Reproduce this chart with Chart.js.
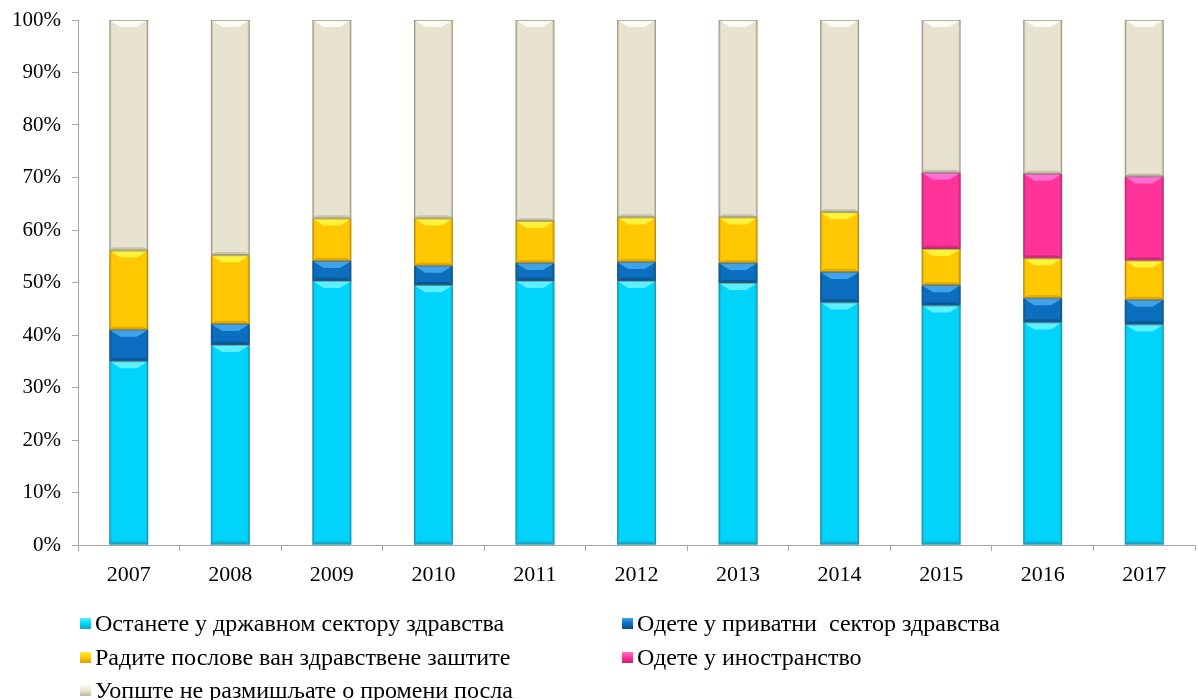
<!DOCTYPE html>
<html>
<head>
<meta charset="utf-8">
<script src="https://cdn.jsdelivr.net/npm/chart.js@4.4.1/dist/chart.umd.min.js"></script>
<style>
  body { margin: 0; background: #fff; }
  #wrap { position: relative; width: 1198px; height: 700px; }
  #chart { position: absolute; left: 0; top: 0; }
  #legend { position: absolute; left: 0; top: 0; width: 1198px; height: 700px; pointer-events: none;
            font-family: "Liberation Serif", "Times New Roman", serif; font-size: 24px; color: #000; }
  .lg-item { position: absolute; white-space: nowrap; line-height: 26px; }
  .lg-box { display: inline-block; width: 11px; height: 11px; margin-right: 4px; vertical-align: 2px; }
</style>
</head>
<body>
<div id="wrap">
  <canvas id="chart" width="1198" height="700"></canvas>
  <div id="legend"></div>
</div>
<script>
// ── Datos ──────────────────────────────────────────────────────────────────
const years = ['2007','2008','2009','2010','2011','2012','2013','2014','2015','2016','2017'];
const yTicks = [0, 10, 20, 30, 40, 50, 60, 70, 80, 90, 100];

const seriesNames = [
  'Останете у државном сектору здравства',
  'Одете у приватни  сектор здравства',
  'Радите послове ван здравствене заштите',
  'Одете у иностранство',
  'Уопште не размишљате о промени посла'
];

const stayPublic   = [35.0, 38.1, 50.3, 49.5, 50.3, 50.3, 49.9, 46.2, 45.6, 42.4, 42.0];
const goPrivate    = [ 6.0,  4.0,  3.8,  3.7,  3.4,  3.6,  3.8,  5.8,  3.9,  4.6,  4.7];
const workOutside  = [15.1, 13.1,  8.1,  9.0,  8.0,  8.5,  8.7, 11.4,  6.9,  7.6,  7.5];
const goAbroad     = [ 0,    0,    0,    0,    0,    0,    0,    0,   14.5, 16.1, 16.0];
const noChange     = [43.9, 44.8, 37.8, 37.8, 38.3, 37.6, 37.6, 36.6, 29.1, 29.3, 29.8];

// colores: base, claro (bisel superior), oscuro (bisel inferior / bordes)
const palette = [
  { base: '#00d4fa', light: '#5cf0ff', dark: '#0aa9cc' },
  { base: '#0b6ebf', light: '#3fa3ea', dark: '#064e8c' },
  { base: '#ffc800', light: '#fff23a', dark: '#d9a100' },
  { base: '#ff3399', light: '#ff6fd0', dark: '#cc1f77' },
  { base: '#e8e3cf', light: '#fbfaf3', dark: '#bdb8a5' }
];

const allSeries = [stayPublic, goPrivate, workOutside, goAbroad, noChange];
const FONT = '"Liberation Serif", "Times New Roman", serif';

// ── Bisel tipo Excel ───────────────────────────────────────────────────────
const bevelPlugin = {
  id: 'bevel',
  afterDatasetsDraw(chart) {
    const ctx = chart.ctx;
    chart.data.datasets.forEach((ds, di) => {
      const meta = chart.getDatasetMeta(di);
      const pal = palette[di];
      meta.data.forEach(bar => {
        const top = Math.min(bar.y, bar.base), bot = Math.max(bar.y, bar.base);
        const h = bot - top;
        if (h < 1) return;
        const l = bar.x - bar.width / 2, r = bar.x + bar.width / 2;
        const b = Math.min(7, h / 2.2);
        ctx.save();
        // bisel superior
        ctx.fillStyle = pal.light;
        ctx.beginPath();
        ctx.moveTo(l, top); ctx.lineTo(r, top); ctx.lineTo(r - b * 1.6, top + b); ctx.lineTo(l + b * 1.6, top + b);
        ctx.closePath(); ctx.fill();
        // bordes laterales
        ctx.fillStyle = pal.dark;
        ctx.globalAlpha = 0.55;
        ctx.fillRect(l, top, 2, h);
        ctx.fillRect(r - 2, top, 2, h);
        // bisel inferior
        ctx.globalAlpha = 0.7;
        ctx.beginPath();
        ctx.moveTo(l, bot); ctx.lineTo(r, bot); ctx.lineTo(r - b * 0.6, bot - b * 0.45); ctx.lineTo(l + b * 0.6, bot - b * 0.45);
        ctx.closePath(); ctx.fill();
        ctx.globalAlpha = 1;
        ctx.strokeStyle = 'rgba(90,90,80,0.45)';
        ctx.lineWidth = 1;
        ctx.strokeRect(l + 0.5, top + 0.5, bar.width - 1, h - 1);
        ctx.restore();
      });
    });
  }
};

// ── Gráfica ────────────────────────────────────────────────────────────────
const datasets = allSeries.map((data, i) => ({
  label: seriesNames[i],
  data: data,
  backgroundColor: palette[i].base,
  borderWidth: 0,
  barPercentage: 0.9,
  categoryPercentage: 0.425
}));

new Chart(document.getElementById('chart'), {
  type: 'bar',
  data: { labels: years, datasets },
  options: {
    responsive: false,
    animation: false,
    layout: { padding: { top: 20, right: 3, left: 0, bottom: 0 } },
    plugins: { legend: { display: false }, tooltip: { enabled: false } },
    scales: {
      x: {
        stacked: true,
        afterFit: s => { s.height = 155; s.paddingLeft = 0; s.paddingRight = 0; },
        border: { color: '#a6a6a6', width: 1 },
        grid: { offset: true, drawOnChartArea: false, color: '#a6a6a6', tickLength: 6 },
        ticks: { color: '#000', font: { family: FONT, size: 22 }, padding: 11 }
      },
      y: {
        stacked: true,
        min: 0, max: 100,
        afterFit: s => { s.width = 78; s.paddingTop = 0; s.paddingBottom = 0; },
        afterBuildTicks: s => { s.ticks = yTicks.map(v => ({ value: v })); },
        border: { color: '#a6a6a6', width: 1 },
        grid: { drawOnChartArea: false, color: '#a6a6a6', tickLength: 6 },
        ticks: { color: '#000', font: { family: FONT, size: 21 }, padding: 11, callback: v => v + '%' }
      }
    }
  },
  plugins: [bevelPlugin]
});

// ── Leyenda ────────────────────────────────────────────────────────────────
const legendPos = [
  { x: 80,  y: 610 },
  { x: 622, y: 610 },
  { x: 80,  y: 644 },
  { x: 622, y: 644 },
  { x: 80,  y: 677 }
];
const legend = document.getElementById('legend');
seriesNames.forEach((name, i) => {
  const el = document.createElement('div');
  el.className = 'lg-item';
  el.style.left = legendPos[i].x + 'px';
  el.style.top = legendPos[i].y + 'px';
  el.innerHTML = `<span class="lg-box" style="background:linear-gradient(${palette[i].light},${palette[i].base} 50%,${palette[i].dark})"></span>` + name.replace(/ /g, '&nbsp;');
  legend.appendChild(el);
});
</script>
</body>
</html>
